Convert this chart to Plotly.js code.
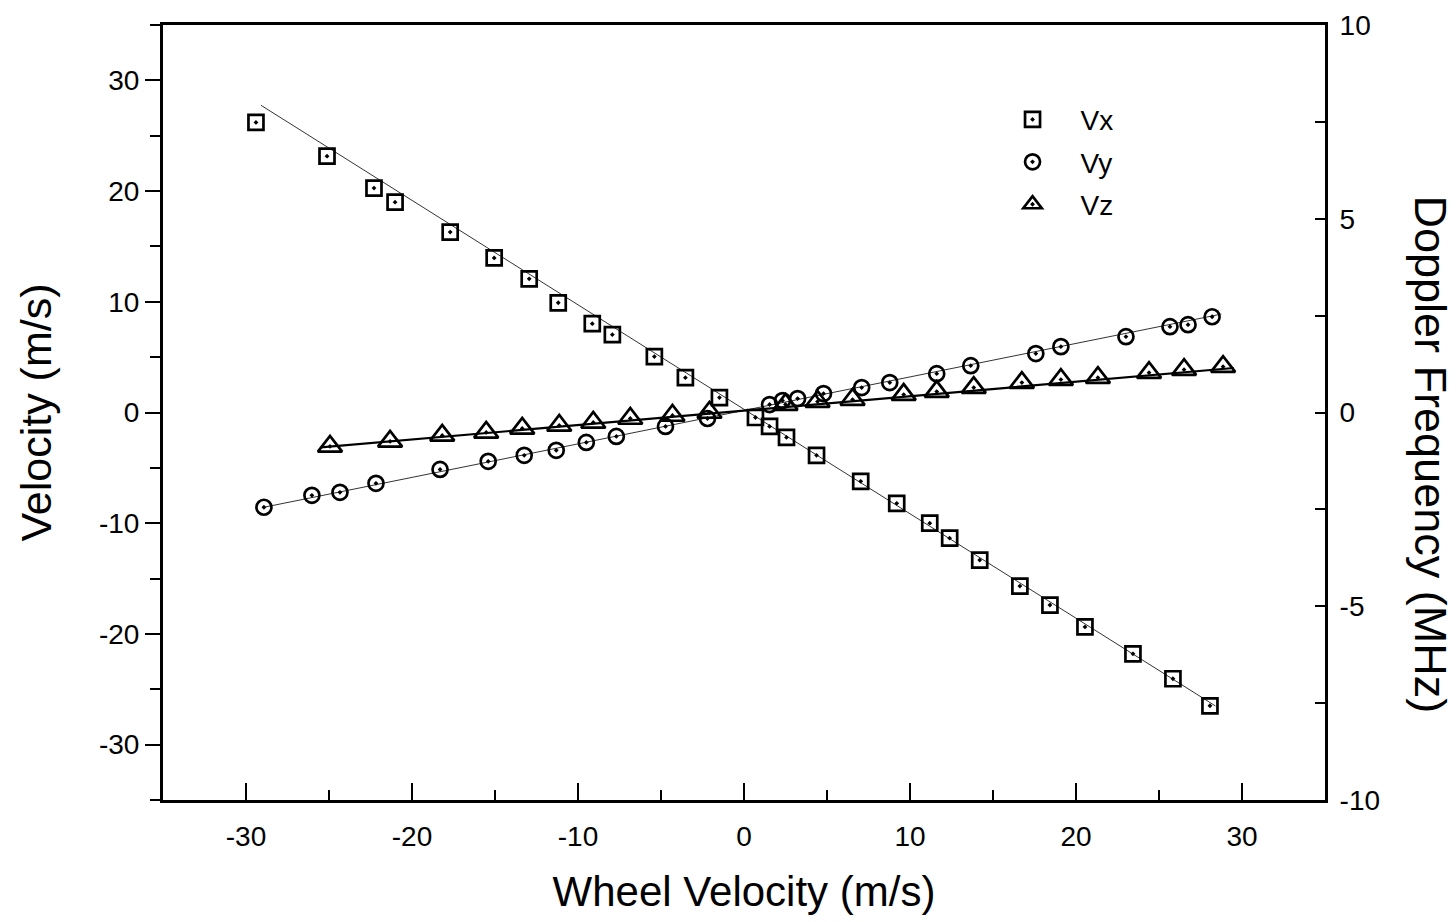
<!DOCTYPE html>
<html><head><meta charset="utf-8">
<script src="https://cdn.plot.ly/plotly-3.0.1.min.js"></script>
<style>html,body{margin:0;padding:0;background:#fff}</style>
</head><body><div id="chart" style="width:1456px;height:922px"></div>
<script>
const vxX = [-29.40,-25.12,-22.29,-21.02,-17.70,-15.05,-12.94,-11.19,-9.14,-7.93,-5.40,-3.53,-1.48,0.69,1.54,2.56,4.37,7.03,9.20,11.19,12.39,14.20,16.62,18.43,20.54,23.43,25.84,28.07];
const vxY = [26.2,23.15,20.27,19.0,16.3,13.96,12.07,9.91,8.02,7.03,5.05,3.15,1.35,-0.45,-1.26,-2.25,-3.87,-6.22,-8.2,-10.0,-11.35,-13.33,-15.68,-17.39,-19.37,-21.8,-24.05,-26.49];
const vyX = [-28.92,-26.03,-24.34,-22.17,-18.31,-15.41,-13.24,-11.31,-9.50,-7.69,-4.73,-2.20,1.54,2.32,3.23,4.79,7.09,8.78,11.61,13.66,17.58,19.09,23.01,25.66,26.75,28.20];
const vyY = [-8.56,-7.48,-7.21,-6.4,-5.14,-4.41,-3.87,-3.42,-2.70,-2.16,-1.26,-0.54,0.72,1.08,1.26,1.71,2.25,2.70,3.51,4.23,5.32,5.95,6.85,7.75,7.93,8.65];
const vzX = [-24.94,-21.32,-18.18,-15.53,-13.36,-11.13,-9.08,-6.85,-4.31,-2.08,2.50,4.43,6.54,9.62,11.61,13.84,16.74,19.09,21.32,24.40,26.51,28.86];
const vzY = [-3.06,-2.61,-2.07,-1.80,-1.44,-1.17,-0.90,-0.54,-0.27,0.0,0.72,0.99,1.17,1.62,1.89,2.25,2.70,2.97,3.15,3.60,3.87,4.14];

// Linear fit lines
const fitNames = ['Vx','Vy','Vz'];
const fitSlope = [-0.9436, 0.3025, 0.1305];
const fitIntercept = [0.29, 0.19, 0.17];
const fitXStart = [-29.1, -28.9, -25.5];
const fitXEnd = [28.4, 28.75, 29.5];

// Tick labels
const xTickVals = [-30,-20,-10,0,10,20,30];
const xTickText = ['-30','-20','-10','0','10','20','30'];
const yTickVals = [-30,-20,-10,0,10,20,30];
const yTickText = ['-30','-20','-10','0','10','20','30'];
const y2TickVals = [-10,-5,0,5,10];
const y2TickText = ['-10','-5','0','5','10'];

const seriesNames = ['Vx','Vy','Vz'];
const seriesX = [vxX, vyX, vzX];
const seriesY = [vxY, vyY, vzY];
const symbols = ['square-open-dot','circle-open-dot','triangle-up-open-dot'];
const sizes = [15, 15, 21];
const fitWidths = [1, 1, 2.2];
const fitColors = ['#333333','#333333','#000000'];

const traces = [];
for (let i = 0; i < 3; i++) {
  const xs = [fitXStart[i], fitXEnd[i]];
  traces.push({
    x: xs, y: xs.map(v => fitSlope[i]*v + fitIntercept[i]),
    mode: 'lines', line: {color: fitColors[i], width: fitWidths[i]},
    showlegend: false, hoverinfo: 'skip'
  });
}
for (let i = 0; i < 3; i++) {
  traces.push({
    x: seriesX[i], y: seriesY[i], name: seriesNames[i], legendgroup: 'g'+i,
    mode: 'markers', type: 'scatter',
    marker: {symbol: symbols[i], size: sizes[i], color: '#000', line: {color: '#000', width: 2.7}}
  });
}
traces.push({x: [], y: [], yaxis: 'y2', showlegend: false, mode: 'markers'});

const FONT = 'Liberation Sans, Arial, sans-serif';
const layout = {
  width: 1456, height: 922,
  paper_bgcolor: '#fff', plot_bgcolor: '#fff',
  margin: {l: 163, r: 131, t: 25, b: 122, pad: 0},
  font: {family: FONT, color: '#000', size: 28},
  showlegend: true,
  legend: {x: 0.707, y: 0.91, xanchor: 'left', yanchor: 'top', bgcolor: 'rgba(0,0,0,0)',
           font: {family: FONT, size: 28, color: '#000'}, itemwidth: 86,
           tracegroupgap: 3, traceorder: 'grouped'},
  xaxis: {
    range: [-35, 35], tickmode: 'array', tickvals: xTickVals, ticktext: xTickText,
    showgrid: false, zeroline: false,
    showline: true, linewidth: 3, linecolor: '#000', mirror: true,
    ticks: 'inside', ticklen: 17, tickwidth: 2, tickcolor: '#000',
    minor: {dtick: 5, tick0: 0, ticks: 'inside', ticklen: 10, tickwidth: 2, tickcolor: '#000', showgrid: false},
    ticklabelstandoff: 9,
    tickfont: {family: FONT, size: 28},
    title: {text: 'Wheel Velocity (m/s)', font: {family: FONT, size: 42}, standoff: 27},
    automargin: false
  },
  yaxis: {
    range: [-35, 35], tickmode: 'array', tickvals: yTickVals, ticktext: yTickText,
    showgrid: false, zeroline: false,
    showline: true, linewidth: 3, linecolor: '#000',
    ticks: 'outside', ticklen: 15, tickwidth: 2, tickcolor: '#000',
    minor: {dtick: 5, tick0: 0, ticks: 'outside', ticklen: 10, tickwidth: 2, tickcolor: '#000', showgrid: false},
    tickfont: {family: FONT, size: 28},
    title: {text: 'Velocity (m/s)', font: {family: FONT, size: 43}, standoff: 34},
    automargin: false
  },
  yaxis2: {
    overlaying: 'y', side: 'right', anchor: 'x',
    range: [-10, 10], tickmode: 'array', tickvals: y2TickVals, ticktext: y2TickText,
    showgrid: false, zeroline: false,
    showline: true, linewidth: 3, linecolor: '#000',
    ticks: 'inside', ticklen: 10, tickwidth: 2, tickcolor: '#000',
    minor: {dtick: 2.5, tick0: 0, ticks: 'inside', ticklen: 10, tickwidth: 2, tickcolor: '#000', showgrid: false},
    ticklabelstandoff: 6,
    tickfont: {family: FONT, size: 28},
    automargin: false
  },
  annotations: [{
    text: 'Doppler Frequency (MHz)', textangle: 90, showarrow: false,
    xref: 'paper', yref: 'paper', x: 1, xshift: 105, y: 0.5, yshift: -42,
    xanchor: 'center', yanchor: 'middle',
    font: {family: FONT, size: 45, color: '#000'}
  }]
};
Plotly.newPlot('chart', traces, layout, {displayModeBar: false, staticPlot: true});
</script></body></html>
